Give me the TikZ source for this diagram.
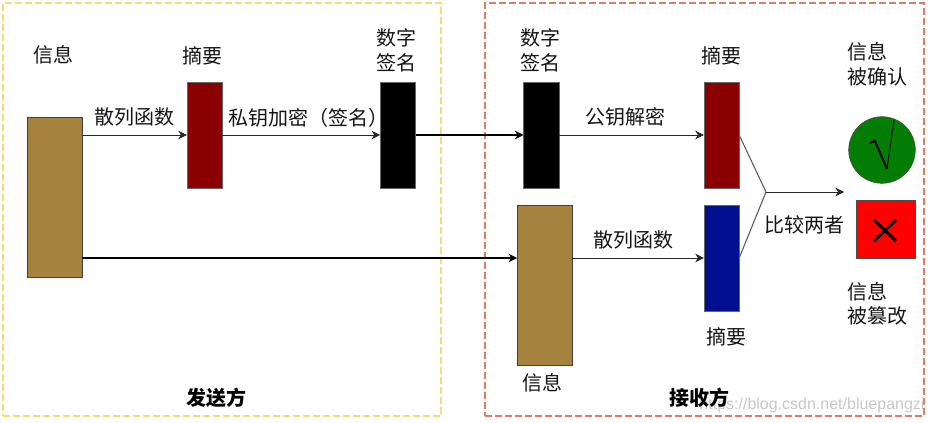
\documentclass[tikz,border=0pt]{standalone}
\usepackage{fontspec}
\setmainfont{Noto Sans CJK SC}
\newfontfamily\wmfont{Liberation Sans}
\usepackage{xcolor}
\usetikzlibrary{arrows.meta, positioning}
\definecolor{BrownBox}{HTML}{A5833F}
\definecolor{RedBox}{HTML}{8B0000}
\definecolor{BlueBox}{HTML}{000F8F}
\definecolor{OkGreen}{HTML}{047D04}
\definecolor{SendFrame}{HTML}{F2DD6E}
\definecolor{RecvFrame}{HTML}{DE7A66}
\tikzset{
  msgbox/.style={draw=black!75, fill=BrownBox, minimum width=41pt, minimum height=120pt, inner sep=0pt, outer sep=0pt},
  digbox/.style={draw=black!60, minimum width=26.5pt, minimum height=79.5pt, inner sep=0pt, outer sep=0pt},
  txt/.style={font=\fontsize{15}{18.5}\selectfont, align=center, text=black!92, inner sep=0pt},
  txtl/.style={txt, align=left},
  sidetxt/.style={font=\fontsize{15}{18}\selectfont\bfseries, inner sep=0pt},
  sideframe/.style={dashed, dash pattern=on 5pt off 2.5pt, line width=0.9pt},
  flow/.style={-{Stealth[length=6.5pt, width=6.5pt]}, line width=0.65pt, draw=black!85},
  flowb/.style={-{Stealth[length=6.5pt, width=6.5pt]}, line width=1.3pt, draw=black},
  cmpline/.style={line width=0.8pt, draw=black!65},
}
\begin{document}
\begin{tikzpicture}[x=0.75pt, y=-0.75pt]
    \useasboundingbox (0,0) rectangle (931,423);
    % frames
    \node[sideframe, draw=SendFrame, minimum width=328.5pt, minimum height=309.75pt, inner sep=0pt] (sender) at (222,209.5) {};
    \node[sideframe, draw=RecvFrame, minimum width=329.25pt, minimum height=309.75pt, inner sep=0pt] (receiver) at (704.5,209.5) {};
    \node[font=\wmfont\fontsize{12}{15}\selectfont, text=black!22, inner sep=0pt] (wmark) at (812,405) {https://blog.csdn.net/bluepangzi};
    % sender boxes
    \node[msgbox] (msga) at (54.5,197) {};
    \node[digbox, fill=RedBox] (diga) at (204.5,135) {};
    \node[digbox, fill=black, right=118.5pt of diga] (siga) {};
    % receiver boxes
    \node[digbox, fill=black, right=81pt of siga] (sigb) {};
    \node[digbox, fill=RedBox, right=108.75pt of sigb] (digb) {};
    \node[digbox, fill=BlueBox, below=12.75pt of digb] (digc) {};
    \node[msgbox] (msgb) at (544.5,285) {};
    \node[circle, draw=black!70, fill=OkGreen, minimum size=50pt, inner sep=0pt] (okc) at (882,150) {};
    \node[draw=black!70, fill=red, minimum width=44.5pt, minimum height=43.5pt, inner sep=0pt] (bad) at (886,229) {};
    \coordinate (cmp) at (766,192);
    \coordinate (cmpend) at (844,192);
    % connectors
    \draw[flow] (msga.east |- diga.west) -- (diga.west);
    \draw[flow] (diga.east) -- (siga.west);
    \draw[flowb] (siga.east) -- (sigb.west);
    \draw[flow] (sigb.east) -- (digb.west);
    \draw[flowb] (msga.east |- digc.west) -- (msgb.west |- digc.west);
    \draw[flow] (msgb.east |- digc.west) -- (digc.west);
    \draw[cmpline] (digb.east) -- (cmp) -- (digc.east);
    \draw[flow] (cmp) -- (cmpend);
    % tick and cross
    \draw[line width=0.7pt] (okc.center) ++(12,-30) -- ++(-7,49);
    \draw[line width=1.5pt] (okc.center) ++(-12,-7) -- ++(5,-2) -- ++(12,28);
    \draw[line width=2.2pt] (bad.center) ++(-12,-9) -- ++(22,21);
    \draw[line width=2.2pt] (bad.center) ++(10,-9) -- ++(-22,21);
    % labels
    \node[txt] (lmsga) at (53,55) {信息};
    \node[txt] (ldiga) at (202,56) {摘要};
    \node[txt] (lsiga) at (396,50) {数字\\签名};
    \node[txt] (lhasha) at (134,117) {散列函数};
    \node[txt] (lenc) at (308,118) {私钥加密（签名）};
    \node[sidetxt] (lsend) at (216,398) {发送方};
    \node[txt] (lsigb) at (540,50) {数字\\签名};
    \node[txt] (ldigb) at (721,56) {摘要};
    \node[txt] (ldec) at (625,117) {公钥解密};
    \node[txt] (lhashb) at (633,240) {散列函数};
    \node[txt] (ldigc) at (726,337) {摘要};
    \node[txt] (lmsgb) at (542,383) {信息};
    \node[txt] (lcmp) at (804,225) {比较两者};
    \node[txtl, anchor=west] (lok) at (847,64) {信息\\被确认};
    \node[txtl, anchor=west] (lbad) at (847,304) {信息\\被篡改};
    \node[sidetxt] (lrecv) at (699,398) {接收方};
  \end{tikzpicture}
\end{document}
